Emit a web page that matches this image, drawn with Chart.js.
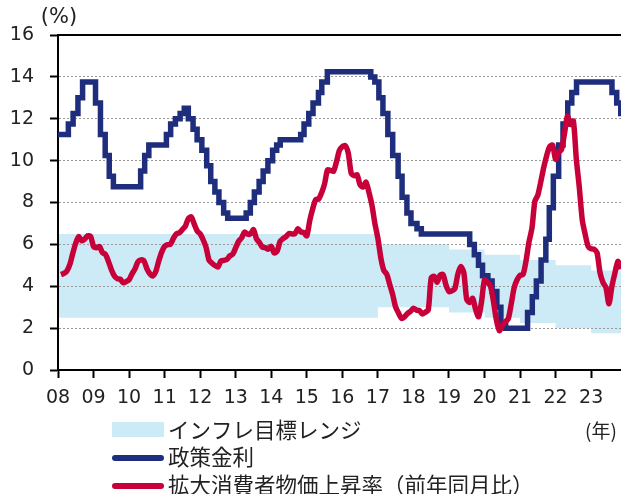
<!DOCTYPE html>
<html lang="ja">
<head>
<meta charset="utf-8">
<script src="https://cdn.jsdelivr.net/npm/chart.js@4.4.0/dist/chart.umd.min.js"></script>
<style>
  html, body { margin: 0; padding: 0; background: #fff; }
  #wrap { width: 621px; height: 494px; position: relative; }
</style>
</head>
<body>
<div id="wrap"><canvas id="rateChart" width="621" height="494"></canvas></div>
<script>
// X軸の目盛り（年初）
const yearTicks = [2008, 2009, 2010, 2011, 2012, 2013, 2014, 2015, 2016, 2017, 2018, 2019, 2020, 2021, 2022, 2023];
const xMax = 2023.84;

// インフレ目標レンジ（各年の上限・下限）
const targetYears = [2008, 2017, 2019, 2020, 2021, 2022, 2023];
const targetUpper = [6.5, 6.0, 5.75, 5.5, 5.25, 5.0, 4.75];
const targetLower = [2.5, 3.0, 2.75, 2.5, 2.25, 2.0, 1.75];

// 政策金利（変更日と変更後の水準）
const policyDates = [
  '2008-01-01', '2008-04-16', '2008-06-04', '2008-07-23', '2008-09-10',
  '2009-01-21', '2009-03-11', '2009-04-29', '2009-06-10', '2009-07-22',
  '2010-04-28', '2010-06-09', '2010-07-21',
  '2011-01-19', '2011-03-02', '2011-04-20', '2011-06-08', '2011-07-20', '2011-08-31', '2011-10-19', '2011-11-30',
  '2012-01-18', '2012-03-07', '2012-04-18', '2012-05-30', '2012-07-11', '2012-08-29', '2012-10-10',
  '2013-04-17', '2013-05-29', '2013-07-10', '2013-08-28', '2013-10-09', '2013-11-27',
  '2014-01-15', '2014-02-26', '2014-04-02', '2014-10-29', '2014-12-03',
  '2015-01-21', '2015-03-04', '2015-04-29', '2015-06-03', '2015-07-29',
  '2016-10-19', '2016-11-30',
  '2017-01-11', '2017-02-22', '2017-04-12', '2017-05-31', '2017-07-26', '2017-09-06', '2017-10-25', '2017-12-06',
  '2018-02-07', '2018-03-21',
  '2019-07-31', '2019-09-18', '2019-10-30', '2019-12-11',
  '2020-02-05', '2020-03-18', '2020-05-06', '2020-06-17', '2020-08-05',
  '2021-03-17', '2021-05-05', '2021-06-16', '2021-08-04', '2021-09-22', '2021-10-27', '2021-12-08',
  '2022-02-02', '2022-03-16', '2022-05-04', '2022-06-15', '2022-08-03',
  '2023-08-02', '2023-09-20', '2023-11-01'
];
const policyRates = [
  11.25, 11.75, 12.25, 13.00, 13.75,
  12.75, 11.25, 10.25, 9.25, 8.75,
  9.50, 10.25, 10.75,
  11.25, 11.75, 12.00, 12.25, 12.50, 12.00, 11.50, 11.00,
  10.50, 9.75, 9.00, 8.50, 8.00, 7.50, 7.25,
  7.50, 8.00, 8.50, 9.00, 9.50, 10.00,
  10.50, 10.75, 11.00, 11.25, 11.75,
  12.25, 12.75, 13.25, 13.75, 14.25,
  14.00, 13.75,
  13.00, 12.25, 11.25, 10.25, 9.25, 8.25, 7.50, 7.00,
  6.75, 6.50,
  6.00, 5.50, 5.00, 4.50,
  4.25, 3.75, 3.00, 2.25, 2.00,
  2.75, 3.50, 4.25, 5.25, 6.25, 7.75, 9.25,
  10.75, 11.75, 12.75, 13.25, 13.75,
  13.25, 12.75, 12.25
];

// 拡大消費者物価上昇率（前年同月比、2008年1月から月次）
const cpiStartYear = 2008;
const cpiValues = [
  4.56, 4.61, 4.73, 5.04, 5.58, 6.06, 6.37, 6.17, 6.25, 6.41, 6.39, 5.90,
  5.84, 5.90, 5.61, 5.53, 5.20, 4.80, 4.50, 4.36, 4.34, 4.17, 4.22, 4.31,
  4.59, 4.83, 5.17, 5.26, 5.22, 4.84, 4.60, 4.49, 4.70, 5.20, 5.63, 5.91,
  5.99, 6.01, 6.30, 6.51, 6.55, 6.71, 6.87, 7.23, 7.31, 6.97, 6.64, 6.50,
  6.22, 5.85, 5.24, 5.10, 4.99, 4.92, 5.20, 5.24, 5.28, 5.45, 5.53, 5.84,
  6.15, 6.31, 6.59, 6.49, 6.50, 6.70, 6.27, 6.09, 5.86, 5.84, 5.77, 5.91,
  5.59, 5.68, 6.15, 6.28, 6.37, 6.52, 6.50, 6.51, 6.75, 6.59, 6.56, 6.41,
  7.14, 7.70, 8.13, 8.17, 8.47, 8.89, 9.56, 9.53, 9.49, 9.93, 10.48, 10.67,
  10.71, 10.36, 9.39, 9.28, 9.32, 8.84, 8.74, 8.97, 8.48, 7.87, 6.99, 6.29,
  5.35, 4.76, 4.57, 4.08, 3.60, 3.00, 2.71, 2.46, 2.54, 2.70, 2.80, 2.95,
  2.86, 2.84, 2.68, 2.76, 2.86, 4.39, 4.48, 4.19, 4.53, 4.56, 4.05, 3.75,
  3.78, 3.89, 4.58, 4.94, 4.66, 3.37, 3.22, 3.43, 2.89, 2.54, 3.27, 4.31,
  4.19, 4.01, 3.30, 2.40, 1.88, 2.13, 2.31, 2.44, 3.14, 3.92, 4.31, 4.52,
  4.56, 5.20, 6.10, 6.76, 8.06, 8.35, 8.99, 9.68, 10.25, 10.67, 10.74, 10.06,
  10.38, 10.54, 11.30, 12.13, 11.73, 11.89, 10.07, 8.73, 7.17, 6.47, 5.90, 5.79,
  5.77, 5.60, 4.65, 4.18, 3.94, 3.16, 3.99, 4.61, 5.19, 4.82
];

const NAVY = '#1f2e7c';
const RED = '#c8003a';
const BAND = '#cdeaf7';
const numFont = { family: '"DejaVu Sans", Verdana, sans-serif', size: 19 };
const jpFont = '"Noto Sans CJK JP", "DejaVu Sans", sans-serif';

// 日付文字列を年の小数に変換
function toYear(s) {
  const [y, m, d] = s.split('-').map(Number);
  return y + (m - 1 + (d - 1) / 30) / 12;
}

const cpiPoints = cpiValues.map((v, i) => ({ x: cpiStartYear + (i + 1) / 12, y: v }));
const policyPoints = policyDates.map((d, i) => ({ x: toYear(d), y: policyRates[i] }));
policyPoints.push({ x: xMax, y: policyRates[policyRates.length - 1] });

const upperPoints = targetYears.map((yr, i) => ({ x: yr, y: targetUpper[i] }));
upperPoints.push({ x: xMax, y: targetUpper[targetUpper.length - 1] });
const lowerPoints = targetYears.map((yr, i) => ({ x: yr, y: targetLower[i] }));
lowerPoints.push({ x: xMax, y: targetLower[targetLower.length - 1] });

// 上枠線・単位・凡例
const decorPlugin = {
  id: 'decor',
  afterDraw(chart) {
    const { ctx, chartArea } = chart;
    ctx.save();
    ctx.strokeStyle = '#000';
    ctx.lineWidth = 2;
    ctx.beginPath();
    ctx.moveTo(chartArea.left, chartArea.top);
    ctx.lineTo(chartArea.right, chartArea.top);
    ctx.stroke();

    ctx.fillStyle = '#222';
    ctx.textBaseline = 'middle';
    ctx.textAlign = 'center';
    ctx.font = '21px "DejaVu Sans", sans-serif';
    ctx.fillText('(%)', 59, 18);
    ctx.font = '19px ' + jpFont;
    ctx.fillText('(年)', 601, 431);

    // 凡例
    ctx.fillStyle = BAND;
    ctx.fillRect(112, 422, 52, 15);
    ctx.lineCap = 'round';
    ctx.lineWidth = 6;
    ctx.strokeStyle = NAVY;
    ctx.beginPath(); ctx.moveTo(115, 458); ctx.lineTo(161, 458); ctx.stroke();
    ctx.strokeStyle = RED;
    ctx.beginPath(); ctx.moveTo(115, 486); ctx.lineTo(161, 486); ctx.stroke();

    ctx.fillStyle = '#222';
    ctx.textAlign = 'left';
    ctx.font = '21.5px ' + jpFont;
    ctx.fillText('インフレ目標レンジ', 168, 430);
    ctx.fillText('政策金利', 168, 457);
    ctx.fillText('拡大消費者物価上昇率（前年同月比）', 168, 485);
    ctx.restore();
  }
};

const chart = new Chart(document.getElementById('rateChart'), {
  type: 'line',
  data: {
    datasets: [
      {
        label: '拡大消費者物価上昇率（前年同月比）',
        data: cpiPoints,
        borderColor: RED,
        borderWidth: 5.5,
        pointRadius: 0,
        tension: 0.25,
        borderJoinStyle: 'round',
        order: 1
      },
      {
        label: '政策金利',
        data: policyPoints,
        borderColor: NAVY,
        borderWidth: 5.5,
        pointRadius: 0,
        stepped: true,
        order: 2
      },
      {
        label: 'インフレ目標レンジ',
        data: upperPoints,
        borderWidth: 0,
        borderColor: 'rgba(0,0,0,0)',
        backgroundColor: BAND,
        pointRadius: 0,
        stepped: true,
        fill: '+1',
        order: 3
      },
      {
        label: '下限',
        data: lowerPoints,
        borderWidth: 0,
        borderColor: 'rgba(0,0,0,0)',
        pointRadius: 0,
        stepped: true,
        fill: false,
        order: 4
      }
    ]
  },
  options: {
    responsive: false,
    animation: false,
    devicePixelRatio: 1,
    layout: { padding: { top: 35, right: 0, bottom: 0, left: 0 } },
    plugins: {
      legend: { display: false },
      tooltip: { enabled: false },
      filler: { propagate: false, drawTime: 'beforeDraw' }
    },
    scales: {
      x: {
        type: 'linear',
        min: 2008,
        max: xMax,
        afterBuildTicks: scale => { scale.ticks = yearTicks.map(v => ({ value: v })); },
        afterFit: scale => { scale.height = 124; },
        ticks: {
          callback: v => String(v).slice(2),
          font: numFont,
          color: '#222',
          padding: 9,
          maxRotation: 0,
          autoSkip: false
        },
        grid: {
          drawOnChartArea: false,
          tickLength: 8,
          tickColor: '#000',
          tickWidth: 2
        },
        border: { color: '#000', width: 2 }
      },
      y: {
        min: 0,
        max: 16,
        afterFit: scale => { scale.width = 58; },
        ticks: {
          stepSize: 2,
          font: numFont,
          color: '#222',
          padding: 16
        },
        grid: {
          color: c => (c.tick.value === 0 || c.tick.value === 16) ? 'rgba(0,0,0,0)' : '#9a9a9a',
          lineWidth: 1,
          tickLength: 8,
          tickColor: '#000',
          tickWidth: 2
        },
        border: { color: '#000', width: 2, dash: [2, 2] }
      }
    }
  },
  plugins: [decorPlugin]
});
</script>
</body>
</html>
